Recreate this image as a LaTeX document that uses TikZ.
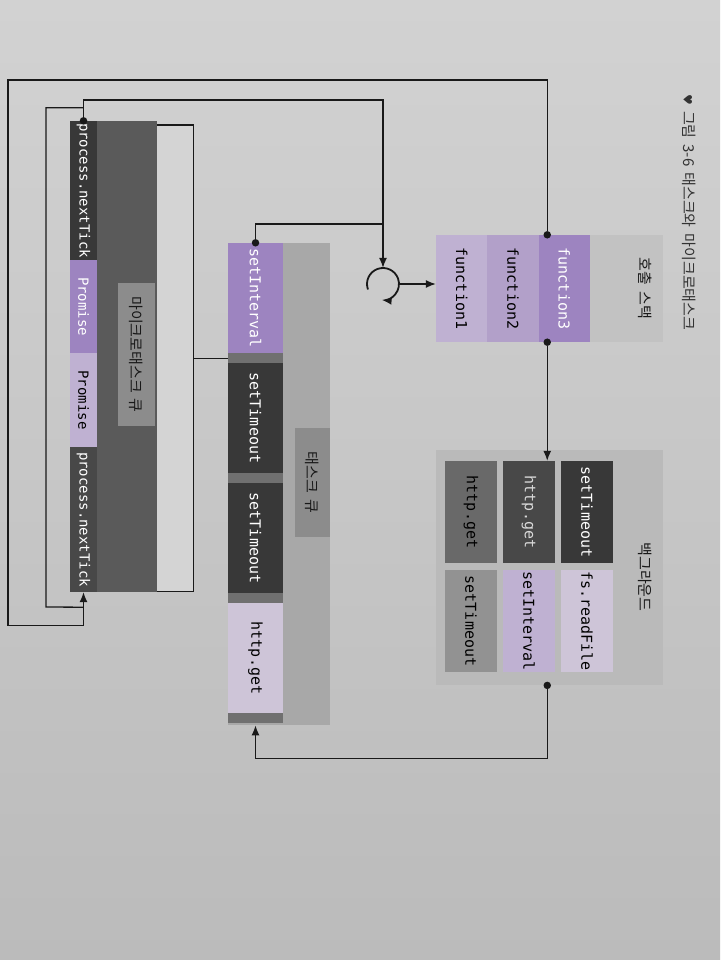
\documentclass[tikz,border=0pt]{standalone}
\usepackage{fontspec}
\setmonofont{DejaVu Sans Mono}
\newfontfamily\krfont[WordSpace=1.8]{Noto Sans CJK KR}
\newfontfamily\symfont{DejaVu Sans}
\usepackage{tikz}
\usetikzlibrary{calc,arrows.meta}
\tikzset{>={Latex[length=10pt,width=8pt]}}
\usepackage{xcolor}
\definecolor{paperT}{HTML}{D2D2D2}
\definecolor{paperB}{HTML}{BBBBBB}
\definecolor{purD}{HTML}{9D84C0}
\definecolor{purM}{HTML}{B2A0C9}
\definecolor{purL}{HTML}{BFB1D2}
\definecolor{purXL}{HTML}{CEC5D8}
\definecolor{grayA}{HTML}{383838}
\definecolor{grayB}{HTML}{484848}
\definecolor{grayC}{HTML}{696969}
\definecolor{grayD}{HTML}{929292}
\definecolor{stripcol}{HTML}{707070}
\definecolor{csgray}{HTML}{C2C2C2}
\definecolor{bggray}{HTML}{BABABA}
\definecolor{tqgray}{HTML}{A8A8A8}
\definecolor{labgray}{HTML}{8C8C8C}
\definecolor{mqgray}{HTML}{5A5A5A}
\definecolor{mqlight}{HTML}{D4D4D4}
\colorlet{linecol}{black!90}
\tikzstyle{group}=[inner sep=0,anchor=north west]
\tikzstyle{cell}=[rotate=-90,inner sep=0,font=\ttfamily\fontsize{15}{18}\selectfont]
\tikzstyle{tag}=[rotate=-90,inner sep=0,text=black!90,font=\krfont\fontsize{15}{18}\selectfont]
\tikzstyle{link}=[line width=1.3pt,linecol]
\tikzstyle{dot}=[circle,fill=linecol,inner sep=0,minimum size=7.5pt]
\tikzset{cellsize/.style 2 args={minimum width=#1,minimum height=#2}}

\begin{document}
\begin{tikzpicture}[x=1pt,y=-1pt]
  \useasboundingbox (0,0) rectangle (720,960);
  \shade[top color=paperT,bottom color=paperB] (0,0) rectangle (720,960);

  % CAPTION
  \node[tag,anchor=west,text=black!80] (cap) at (689,94)
    {{\symfont\fontsize{12}{14}\selectfont ♥}\ 그림 3-6 태스크와 마이크로태스크};

  % CALL STACK
  \node[group,fill=csgray,minimum width=227,minimum height=107] (cs) at (436,235) {};
  \foreach \txt/\fc/\tc [count=\i, evaluate={\x=436+51.3*\i-25.65;}] in
      {function1/purL/black,function2/purM/black,function3/purD/white}
    \node[cell,fill=\fc,text=\tc,cellsize={107}{51.3}] (f\i) at (\x,288.5) {\txt};
  \node[tag] (cslab) at (645,288.5) {호출 스택};

  % BACKGROUND
  \node[group,fill=bggray,minimum width=227,minimum height=235] (bg) at (436,450) {};
  \foreach \txt/\fc/\tc/\x/\y [count=\i] in
      {setTimeout/grayA/white/587/512,fs.readFile/purXL/black/587/621,
       http.get/grayB/white!85!black/529/512,setInterval/purL/black/529/621,
       http.get/grayC/black/471/512,setTimeout/grayD/black/471/621}
    \node[cell,fill=\fc,text=\tc,cellsize={102}{52}] (b\i) at (\x,\y) {\txt};
  \node[tag] (bglab) at (645,577) {백그라운드};

  % TASK QUEUE
  \node[group,fill=tqgray,minimum width=102,minimum height=482] (tq) at (228,243) {};
  \foreach \txt/\fc/\tc [count=\i, evaluate={\y=178+120*\i;}] in
      {setInterval/purD/white,setTimeout/grayA/white,setTimeout/grayA/white,http.get/purXL/black}{
    \node[cell,fill=\fc,text=\tc,cellsize={110}{55}] (t\i) at (255.5,\y) {\txt};
    \fill[stripcol] (228,\y+55) rectangle ++(55,10);
  }
  \node[tag,fill=labgray,cellsize={109}{35}] (tqlab) at (312.5,482.5) {태스크 큐};

  % MICROTASK QUEUE
  \node[group,fill=mqgray,minimum width=87,minimum height=471] (mq) at (70,121) {};
  \node[group,fill=mqlight,minimum width=36,minimum height=466] (mqb) at (157,125) {};
  \foreach \txt/\fc/\tc/\ya/\yb [count=\i] in
      {process.nextTick/grayA/white/121/260,Promise/purD/white/260/353,
       Promise/purL/black/353/447,process.nextTick/grayB/white/447/592}
    \node[cell,fill=\fc,text=\tc,font=\ttfamily\fontsize{14}{17}\selectfont,cellsize={\yb-\ya}{27}]
      (m\i) at (83.5,{(\ya+\yb)/2}) {\txt};
  \node[tag,fill=labgray,cellsize={143}{37}] (mqlab) at (136.5,354.5) {마이크로태스크 큐};

  % EVENT LOOP
  \node[circle,minimum size=32pt,inner sep=0] (loop) at (383,284) {};
  \draw[link,line width=1.8pt,->] (loop.center) ++(160:16) arc[start angle=160,end angle=455,radius=16];

  % CONNECTORS
  \node[dot] (d1) at ($(f3.west)+(-17,0)$) {};
  \node[dot] (d2) at (m1.west) {};
  \node[dot] (d3) at (t1.west) {};
  \node[dot] (d4) at ($(f3.east)+(-17,0)$) {};
  \node[dot] (d5) at (d4 |- bg.south) {};
  \coordinate (tqin) at (t4.east |- tq.south);

  \draw[link,->] (d1) |- (8,80) |- ($(m4.east)+(0,33)$) -- (m4.east);
  \draw[link,->] (d2) |- (383,100) -- (loop.north);
  \draw[link] ($(d2)+(0,-13)$) -| (46,607) -- ($(m4.east)+(0,15)$);
  \draw[link] (d3) |- (383,224);
  \draw[link,->] (loop.east) -- (loop.east -| f1.south);
  \draw[link,->] (d4) -- (d4 |- b3.west);
  \draw[link,->] (d5) |- ($(tqin)+(0,33)$) -- (tqin);
  \draw[link] (mqb.north west) -- (mqb.north east) -- (mqb.south east) -- (mqb.south west);
  \draw[link] (mqb.east) -- (mqb.east -| tq.west);

\end{tikzpicture}
\end{document}
